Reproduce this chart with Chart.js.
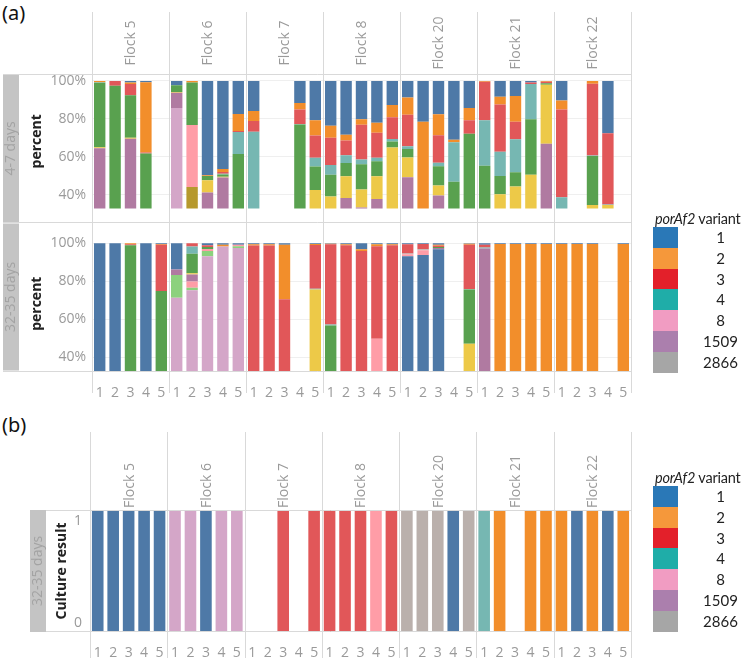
<!DOCTYPE html>
<html><head><meta charset="utf-8">
<script src="https://cdn.jsdelivr.net/npm/chart.js@4.4.1/dist/chart.umd.min.js"></script>
<style>
html,body{margin:0;padding:0;background:#fff;width:750px;height:658px;overflow:hidden;position:relative;}
canvas{position:absolute;left:0;}
#cA1{top:0px} #cA2{top:222px} #cB{top:400px}
.plabel{position:absolute;left:2px;font-family:'Noto Sans',sans-serif;font-size:20px;line-height:24px;color:#111;}
.legend{position:absolute;left:653px;width:97px;font-family:Lato,sans-serif;font-size:15px;color:#222;}
.ltitle{height:17px;line-height:17px;white-space:nowrap;margin-left:2px;font-size:14.5px;letter-spacing:-0.2px;}
.lrow{height:20.8px;position:relative;}
.sw{position:absolute;left:0;top:0;width:25px;height:100%;}
.lt{position:absolute;left:45px;width:45px;text-align:center;line-height:20.8px;}
</style></head>
<body>
<div class="plabel" style="top:1px">(a)</div>
<div class="plabel" style="top:413px">(b)</div>
<canvas id="cA1" width="750" height="223"></canvas>
<canvas id="cA2" width="750" height="178"></canvas>
<canvas id="cB" width="750" height="258"></canvas>
<script>
// ---------- categories & ticks ----------
const flocks = ['Flock 5','Flock 6','Flock 7','Flock 8','Flock 20','Flock 21','Flock 22'];
const samples = ['1','2','3','4','5'];
const rowEarly = '4-7 days';
const rowLate = '32-35 days';
const percentTicks = [40,60,80,100];
const cultureTicks = [0,1];
const legendTitleItalic = 'porAf2';
const legendTitleRest = ' variant';
const legendVariants = ['1','2','3','4','8','1509','2866'];

// ---------- 4-7 days: percent per colour group (bottom -> top stacking) ----------
const earlyOlive    = [0,0,0,0,0, 0,44,0,0,0, 0,0,0,0,0, 0,0,0,0,0, 0,0,0,0,0, 0,0,0,0,0, 0,0,0,0,0];
const earlyLavender = [0,0,0,0,0, 85.7,0,0,0,0, 0,0,0,0,0, 0,0,0,0,0, 0,0,0,0,0, 0,0,0,0,0, 0,0,0,0,0];
const earlyPink     = [0,0,0,0,0, 0,32.8,0,0,0, 0,0,0,0,0, 0,0,0,0,0, 0,0,0,0,0, 0,0,0,0,0, 0,0,0,0,0];
const earlyPurple   = [64.5,0,69.5,0,0, 8,0,41.2,49,0, 0,0,0,0,0, 0,38.3,33.2,37.7,0, 49.2,0,39.6,0,0, 0,0,0,0,66.8, 0,0,0,0,0];
const earlyYellow   = [0.5,0,0.5,0,0, 0.5,0,6.4,0.4,0, 0,0,0,0,42.4, 39,11.4,9.5,12,64.9, 10.4,0,5.3,0,0, 0,40.2,44.3,50.5,31.2, 0,0,34.5,34.5,0];
const earlyGreen    = [34,97.5,22.4,61.7,0, 3.5,22.4,2.3,1.2,61.4, 0,0,0,77,12.4, 11.5,7,13.4,7.9,3.2, 4.5,0,10.1,46.8,72.1, 55.3,9.7,7.5,29.3,0.8, 0,0,25.9,0,0];
const earlyTeal     = [0.3,0,0,0,0, 0,0,0,0.4,11.7, 73.2,0,0,0.3,4.7, 5.1,4.1,2.4,1.9,1.3, 1.5,0,1.8,20.8,0, 23.9,12.8,17.4,18.6,0, 38.7,0,0.3,0.3,0];
const earlyRed      = [0,2.5,6,0.5,0, 0,0,0,1,0.5, 5.6,0,0,7.6,11.7, 14.4,7.8,18.4,13.1,11.4, 16.5,0,14.5,0,7.2, 20.3,24.9,9.3,0.8,0.7, 46.2,0,37.8,37.6,0];
const earlyOrange   = [0.7,0,0.8,37.1,0, 0,0.8,0.3,1.6,9, 5.3,0,0,3.4,8.1, 6.4,3,2.9,5.4,6.5, 9.2,78.4,11.1,1.4,6.4, 0.5,4,13.6,0,0.5, 4.8,0,1.5,0,0];
const earlyBlue     = [0,0,0.8,0.7,0, 2.3,0,49.8,46.4,17.4, 15.9,0,0,11.7,20.7, 23.6,28.4,20.2,22,12.7, 8.7,21.6,17.6,31,14.3, 0,8.4,7.9,0.8,0, 10.3,0,0,27.6,0];

// ---------- 32-35 days ----------
const lateBlueLow    = [100,100,0,100,0, 0,0,0,0,0, 0,0,0,0,0, 0,0,0,0,0, 93.2,93.8,96.9,0,0, 0,0,0,0,0, 0,0,0,0,0];
const lateLavender   = [0,0,0,0,0, 71.3,75.3,93.2,98.3,97.5, 0,0,0,0,0, 0,0,0,0,0, 0,0,0,0,0, 0,0,0,0,0, 0,0,0,0,0];
const lateLightGreen = [0,0,0,0,0, 12,1.3,2.8,0,1, 0,0,0,0,0, 0,0,0,0,0, 0,0,0,0,0, 0,0,0,0,0, 0,0,0,0,0];
const latePink       = [0,0,0,0,0, 0,3.2,1,0,0.8, 0,0,0,0,0, 0,0,0,49.7,0, 1,2.5,0,0,0, 0,0,0,0,0, 0,0,0,0,0];
const latePurple     = [0,0,0,0,0, 2.9,3.8,0,0,0, 0,0,0,0,0, 0,0,0,0,0, 0,0,0.6,0,0, 97.3,0,0,0,0, 0,0,0,0,0];
const lateYellow     = [0,0,0,0,0, 0,0.6,0,0,0, 0,0,0,0,75.6, 0,0,0,0,0, 0,0,0,0,47, 0,0,0,0,0, 0,0,0,0,0];
const lateGreen      = [0,0,99,0,74.8, 0,10.3,1,0,0, 0,0,0,0,0, 56.7,0,0,0,0, 0,0,0.6,0,28.6, 0,0,0,0,0, 0,0,0,0,0];
const lateGray       = [0,0,0,0,0, 0,0,0,0,0, 0,0,0,0,0, 0,0,0,0,0, 0.4,0.6,0,0,0, 0,0,0,0,0, 0,0,0,0,0];
const lateTeal       = [0,0,0,0,0, 0,3.8,0,0,0, 0,0,0,0,0.5, 0.5,0,0,0,0, 0,0,0,0,0.3, 0.5,0,0,0,0, 0,0,0,0,0];
const lateRed        = [0,0,0.5,0,24.5, 0,1.7,1,0,0, 98.8,98.8,70.5,0,23, 42.3,99,96,48.8,99, 4.9,2.7,0.6,0,23.4, 1.5,0,0,0,0, 0,0,0,0,0];
const lateOrange     = [0,0,0.5,0,0.4, 0,0,0,1,0, 0.7,0.7,28.8,0,0.5, 0.3,0.5,0.9,1,0.5, 0,0,0.6,0,0.5, 0,99.6,99.6,99.6,99.6, 99.6,99.6,99.6,0,99.6];
const lateBlue       = [0,0,0,0,0.3, 13.8,0,1,0.7,0.7, 0.5,0.5,0.7,0,0.4, 0.2,0.5,3.1,0.5,0.5, 0.5,0.4,0.7,0,0.2, 0.7,0.4,0.4,0.4,0.4, 0.4,0.4,0.4,0,0.4];

// ---------- (b) culture result ----------
const cultureResult = [1,1,1,1,1, 1,1,1,1,1, null,null,1,null,1, 1,1,1,1,1, 1,1,1,1,1, 1,1,null,1,1, 1,1,1,1,1];
const cultureGroup  = ['blue','blue','blue','blue','blue', 'lavender','lavender','blue','lavender','lavender',
  null,null,'red',null,'red', 'red','red','red','pink','red', 'gray','gray','gray','blue','gray',
  'teal','orange',null,'orange','orange', 'orange','blue','orange','blue','orange'];

// ---------- styles ----------
const colors = {blueLow:'#4e79a7', olive:'#b6992d', lavender:'#d4a6c8', lightgreen:'#8cd17d', pink:'#ff9da7',
  purple:'#b07aa1', yellow:'#edc948', green:'#59a14f', gray:'#bab0ac', teal:'#76b7b2', red:'#e15759',
  orange:'#f28e2b', blue:'#4e79a7'};
const legendColors = ['#2a78b7','#f5983b','#e3202a','#1fada8','#f19cc2','#ab7fad','#a6a6a6'];
const stackOrder = ['blueLow','olive','lavender','lightgreen','pink','purple','yellow','green','gray','teal','red','orange','blue'];
const earlyMap = {olive:earlyOlive, lavender:earlyLavender, pink:earlyPink, purple:earlyPurple, yellow:earlyYellow,
  green:earlyGreen, teal:earlyTeal, red:earlyRed, orange:earlyOrange, blue:earlyBlue};
const lateMap = {blueLow:lateBlueLow, lavender:lateLavender, lightgreen:lateLightGreen, pink:latePink, purple:latePurple,
  yellow:lateYellow, green:lateGreen, gray:lateGray, teal:lateTeal, red:lateRed, orange:lateOrange, blue:lateBlue};

const Y_MIN = 32.65, Y_MAX = 103.65;
const FONT = "'Open Sans', sans-serif";
const GRAY_TXT = '#9a9a9a';
const DIV_COL = '#d9d9d9';
Chart.defaults.font.family = FONT;

const xLabels = flocks.flatMap(f => samples.map(s => f + '|' + s));

function line(ctx,x1,y1,x2,y2){ctx.beginPath();ctx.moveTo(x1,y1);ctx.lineTo(x2,y2);ctx.stroke();}
function vtext(ctx,text,x,y,font,color,align){
  ctx.save();ctx.translate(x,y);ctx.rotate(-Math.PI/2);ctx.font=font;ctx.fillStyle=color;
  ctx.textAlign=align||'center';ctx.textBaseline='middle';ctx.fillText(text,0,0);ctx.restore();
}
function bounds(x){
  const slot = x.getPixelForValue(1)-x.getPixelForValue(0);
  const b = flocks.map((f,i)=>x.getPixelForValue(i*samples.length)-slot/2);
  b.push(x.getPixelForValue(xLabels.length-1)+slot/2);
  return b.map(v=>Math.round(v)+0.5);
}
function stackedDatasets(map){
  return stackOrder.filter(k=>map[k]).map(k=>({label:k,data:map[k],backgroundColor:colors[k],borderWidth:0,stack:'s',clip:0}));
}
function rowHeader(ctx,text,x0,y0,y1){
  ctx.fillStyle='#c4c4c4';ctx.fillRect(x0,y0,16,y1-y0);
  vtext(ctx,text,x0+8.5,(y0+y1)/2,'14px '+FONT,'#a3a3a3');
}

const commonY = {
  stacked:true, min:Y_MIN, max:Y_MAX,
  afterFit:s=>{s.width=92;},
  afterBuildTicks:s=>{s.ticks=percentTicks.map(v=>({value:v}));},
  ticks:{callback:v=>v+'%',color:GRAY_TXT,font:{size:14},padding:6},
  grid:{color:'#efefef',drawTicks:false},
  border:{display:false}
};
const baseOpts = {
  responsive:false, animation:false, events:[],
  plugins:{legend:{display:false},tooltip:{enabled:false}},
  datasets:{bar:{categoryPercentage:0.74,barPercentage:1}}
};

// ---- (a) top: 4-7 days ----
new Chart(document.getElementById('cA1'),{
  type:'bar',
  data:{labels:xLabels,datasets:stackedDatasets(earlyMap)},
  options:Object.assign({},baseOpts,{
    layout:{padding:{left:0,right:119,top:74,bottom:1}},
    scales:{x:{stacked:true,display:false},y:commonY}
  }),
  plugins:[{id:'frameA1',afterDraw(chart){
    const {ctx,chartArea,scales:{x}}=chart; const b=bounds(x);
    ctx.save(); ctx.strokeStyle=DIV_COL; ctx.lineWidth=1;
    b.forEach(px=>line(ctx,px,12,px,chart.height));
    line(ctx,3,74.5,b[b.length-1],74.5);
    flocks.forEach((f,i)=>vtext(ctx,f,x.getPixelForValue(i*5+2)+1,43,'14px '+FONT,GRAY_TXT));
    rowHeader(ctx,rowEarly,3,75,222);
    vtext(ctx,'percent',37,(chartArea.top+chartArea.bottom)/2,'bold 14px '+FONT,'#222');
    ctx.restore();
  }}]
});

// ---- (a) bottom: 32-35 days ----
new Chart(document.getElementById('cA2'),{
  type:'bar',
  data:{labels:xLabels,datasets:stackedDatasets(lateMap)},
  options:Object.assign({},baseOpts,{
    layout:{padding:{left:0,right:119,top:1,bottom:0}},
    scales:{
      x:{stacked:true,afterFit:s=>{s.height=29;},grid:{display:false},border:{display:false},
         ticks:{autoSkip:false,maxRotation:0,color:GRAY_TXT,font:{size:14},padding:6,
           callback(v){return this.getLabelForValue(v).split('|')[1];}}},
      y:commonY
    }
  }),
  plugins:[{id:'frameA2',afterDraw(chart){
    const {ctx,chartArea,scales:{x}}=chart; const b=bounds(x);
    ctx.save(); ctx.strokeStyle=DIV_COL; ctx.lineWidth=1;
    b.forEach(px=>line(ctx,px,0,px,171));
    line(ctx,3,0.5,b[b.length-1],0.5);
    line(ctx,3,Math.round(chartArea.bottom)+0.5,b[b.length-1],Math.round(chartArea.bottom)+0.5);
    rowHeader(ctx,rowLate,3,1.5,148.5);
    vtext(ctx,'percent',37,(chartArea.top+chartArea.bottom)/2,'bold 14px '+FONT,'#222');
    ctx.restore();
  }}]
});

// ---- (b) culture result ----
new Chart(document.getElementById('cB'),{
  type:'bar',
  data:{labels:xLabels,datasets:[{label:'Culture result',data:cultureResult,
    backgroundColor:cultureGroup.map(k=>k?colors[k]:'rgba(0,0,0,0)'),borderWidth:0,clip:0,
    categoryPercentage:0.75,barPercentage:1}]},
  options:Object.assign({},baseOpts,{
    layout:{padding:{left:90,right:119,top:110,bottom:0}},
    scales:{
      x:{afterFit:s=>{s.height=26;},grid:{display:false},border:{display:false},
         ticks:{autoSkip:false,maxRotation:0,color:GRAY_TXT,font:{size:14},padding:5,
           callback(v){return this.getLabelForValue(v).split('|')[1];}}},
      y:{display:false,min:cultureTicks[0],max:cultureTicks[1]}
    }
  }),
  plugins:[{id:'frameB',afterDraw(chart){
    const {ctx,chartArea,scales:{x,y}}=chart; const b=bounds(x);
    ctx.save(); ctx.strokeStyle=DIV_COL; ctx.lineWidth=1;
    b.forEach(px=>line(ctx,px,32,px,chart.height));
    const yt=Math.round(y.getPixelForValue(1))+0.5, yb=Math.round(y.getPixelForValue(0))-0.5;
    line(ctx,30,yt,b[b.length-1],yt);
    line(ctx,30,yb,b[b.length-1],yb);
    flocks.forEach((f,i)=>vtext(ctx,f,x.getPixelForValue(i*5+2)+1,chartArea.top-2,'14px '+FONT,GRAY_TXT,'left'));
    rowHeader(ctx,rowLate,30,chartArea.top,chartArea.bottom);
    vtext(ctx,'Culture result',62,(chartArea.top+chartArea.bottom)/2,'bold 14px '+FONT,'#222');
    ctx.fillStyle=GRAY_TXT; ctx.font='14px '+FONT; ctx.textAlign='right'; ctx.textBaseline='middle';
    ctx.fillText(String(cultureTicks[1]),82,y.getPixelForValue(1)+11);
    ctx.fillText(String(cultureTicks[0]),82,y.getPixelForValue(0)-9);
    ctx.restore();
  }}]
});

// ---- legends ----
function buildLegend(top){
  const wrap=document.createElement('div'); wrap.className='legend'; wrap.style.top=top+'px';
  const title=document.createElement('div'); title.className='ltitle';
  const it=document.createElement('i'); it.textContent=legendTitleItalic;
  title.appendChild(it); title.appendChild(document.createTextNode(legendTitleRest));
  wrap.appendChild(title);
  legendVariants.forEach((v,i)=>{
    const row=document.createElement('div'); row.className='lrow';
    const sw=document.createElement('span'); sw.className='sw'; sw.style.background=legendColors[i];
    const tx=document.createElement('span'); tx.className='lt'; tx.textContent=v;
    row.appendChild(sw); row.appendChild(tx); wrap.appendChild(row);
  });
  document.body.appendChild(wrap);
}
buildLegend(210);
buildLegend(469);
</script>
</body></html>
